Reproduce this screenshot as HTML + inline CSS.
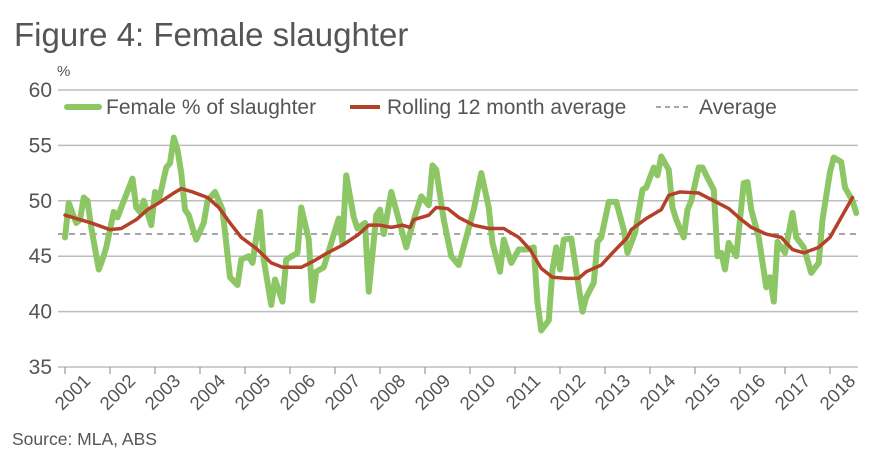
<!DOCTYPE html>
<html><head><meta charset="utf-8"><style>
body{margin:0;background:#fff;width:870px;height:455px;overflow:hidden}
svg{font-family:"Liberation Sans",sans-serif}
</style></head><body>
<svg width="870" height="455">
<text x="14" y="46" font-size="33" fill="#555">Figure 4: Female slaughter</text>
<text x="57" y="76" font-size="15" fill="#555">%</text>
<g id="grid"></g><g id="ticks"></g><g id="series"></g>
<g>
<line x1="67" y1="107" x2="99" y2="107" stroke="#8dc665" stroke-width="6" stroke-linecap="round"/>
<text x="106" y="114" font-size="21" fill="#555">Female % of slaughter</text>
<line x1="350" y1="107" x2="380" y2="107" stroke="#b5402a" stroke-width="4"/>
<text x="387" y="114" font-size="21" fill="#555">Rolling 12 month average</text>
<line x1="656" y1="107" x2="690" y2="107" stroke="#888" stroke-width="1.5" stroke-dasharray="5,4"/>
<text x="699" y="114" font-size="21" fill="#555">Average</text>
</g>
<text x="12" y="445" font-size="17.5" fill="#555">Source: MLA, ABS</text>
</svg>
<script>
const yTicks=[35,40,45,50,55,60];
const years=["2001","2002","2003","2004","2005","2006","2007","2008","2009","2010","2011","2012","2013","2014","2015","2016","2017","2018"];
const avgValue=47;
const femaleMonths=[0,1,3,4,5,6,7,9,10,11,13,14,15,18,19,20,21,23,24,25,27,28,29,30,31,32,33,35,37,38,40,42,44,46,47,49,50,52,53,55,56,58,59,62,63,65,66,67,69,71,73,74,75,77,78,80,81,83,84,85,87,89,91,93,95,97,98,99,101,103,105,107,109,111,113,114,116,117,119,121,123,125,126,127,129,130,131,132,133,135,136,138,139,141,142,143,145,147,149,150,152,154,155,157,158,159,161,162,163,165,166,167,169,170,171,173,174,175,176,177,179,181,182,183,185,187,188,189,190,192,194,195,197,199,201,202,204,205,207,208,210,211];
const femaleValues=[46.7,49.8,48,48.3,50.3,50,47.6,43.8,44.7,45.8,49,48.5,49.4,52,49.4,49,50,47.8,50.8,50,53,53.4,55.7,54.6,52.5,49.2,48.7,46.5,48,50,50.8,49.2,43.1,42.4,44.7,45,44.4,49,44.7,40.6,42.9,40.9,44.7,45.3,49.4,46.5,41,43.6,44,46.2,48.4,46.2,52.3,48.5,47.5,48,41.8,48.7,49.2,47,50.8,48.3,45.8,48.3,50.4,49.6,53.2,52.8,48.3,45,44.2,46.7,49.2,52.5,49.4,46.2,43.6,46.5,44.4,45.6,45.6,45.8,40.8,38.3,39.2,43.8,45.8,43.8,46.5,46.6,44.4,40,41.3,42.6,46.3,46.7,49.9,49.9,47.4,45.3,47.1,51,51.2,53,52.3,54,52.8,49.4,48.3,46.7,49.2,50,53,53,52.3,51,45,45.3,43.8,46.2,45,51.6,51.7,49.2,46.7,42.2,43.1,40.9,46.3,45.3,48.9,46.7,45.8,43.5,44.4,48.3,52.6,53.9,53.5,51.2,50,48.9];
const rollingMonths=[0,7,12,15,19,22,25,29,31,34,38,41,44,47,51,55,58,63,66,70,74,78,81,84,87,90,92,93,97,99,102,105,109,113,117,121,124,127,130,134,137,139,143,146,150,151,155,159,161,164,169,173,177,180,183,187,191,194,197,201,204,207,210];
const rollingValues=[48.7,48,47.4,47.5,48.3,49.2,49.8,50.7,51.1,50.8,50.3,49.4,48,46.7,45.7,44.4,44,44,44.5,45.3,46,46.9,47.8,47.8,47.6,47.8,47.6,48.3,48.7,49.4,49.3,48.5,47.8,47.5,47.5,46.7,45.6,43.9,43.1,43,43,43.6,44.2,45.3,46.7,47.4,48.4,49.2,50.5,50.8,50.7,50,49.3,48.4,47.6,47,46.7,45.6,45.3,45.8,46.7,48.5,50.3];
const X0=58,X1=858,yearW=45,xStart=65;
const xm=m=>xStart+m*yearW/12;
const yv=v=>367-(v-35)*277/25;
const NS="http://www.w3.org/2000/svg";
function mk(tag,attrs,parent){const e=document.createElementNS(NS,tag);for(const k in attrs)e.setAttribute(k,attrs[k]);parent.appendChild(e);return e;}
const grid=document.getElementById('grid'),ticks=document.getElementById('ticks'),series=document.getElementById('series');
yTicks.forEach(v=>{
 const l=mk('line',{x1:X0,x2:X1,y1:yv(v),y2:yv(v),stroke:'#bdbdbd','stroke-width':1.5},grid);
 
 
 const t=mk('text',{x:52,y:yv(v)+7,'text-anchor':'end','font-size':21,fill:'#555'},grid);
 t.textContent=v;
 
 
});
years.forEach((y,i)=>{
 const tx=xStart+i*yearW;
 const tk=mk('line',{x1:tx,x2:tx,y1:367,y2:374,stroke:'#999','stroke-width':1.2},ticks);
 
 
 const cx=tx+yearW/2+4;
 const t=mk('text',{x:cx,y:382,'text-anchor':'end','font-size':18.5,fill:'#555',transform:`rotate(-45 ${cx} 382)`},ticks);
 t.textContent=y;
 
 
});
const avg=mk('line',{x1:X0,x2:X1,y1:yv(avgValue),y2:yv(avgValue),stroke:'#888','stroke-width':1.5,'stroke-dasharray':'6,5'},series);


const g=mk('polyline',{points:femaleMonths.map((m,i)=>xm(m)+','+yv(femaleValues[i])).join(' '),fill:'none',stroke:'#8dc665','stroke-width':6,'stroke-linejoin':'round','stroke-linecap':'round'},series);


const r=mk('polyline',{points:rollingMonths.map((m,i)=>xm(m)+','+yv(rollingValues[i])).join(' '),fill:'none',stroke:'#b5402a','stroke-width':3.5,'stroke-linejoin':'round','stroke-linecap':'round'},series);


</script>
</body></html>
